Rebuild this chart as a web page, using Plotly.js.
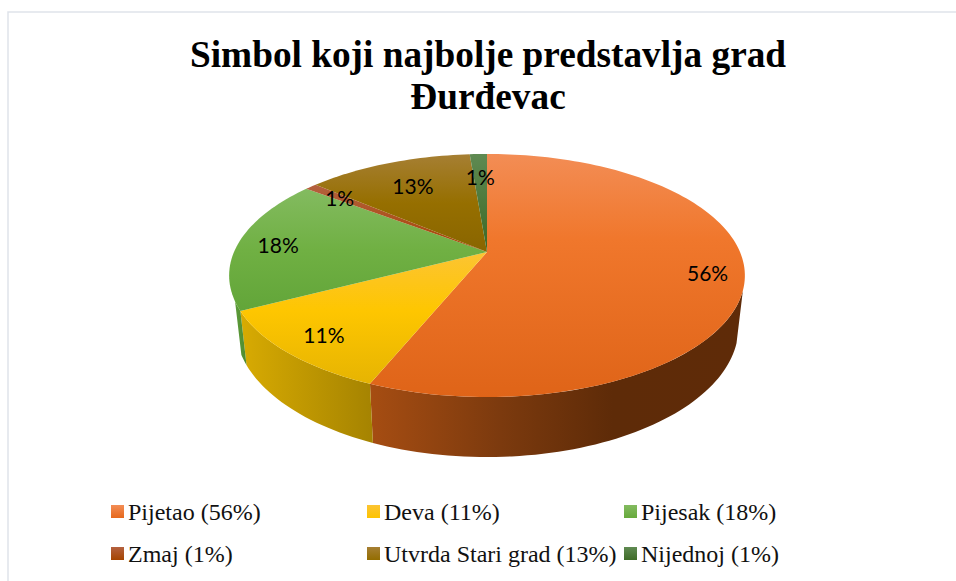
<!DOCTYPE html>
<html>
<head>
<meta charset="utf-8">
<script src="https://cdn.plot.ly/plotly-3.0.1.min.js"></script>
<style>html,body{margin:0;padding:0;background:#fff;overflow:hidden}</style>
</head>
<body>
<div id="chart" style="width:956px;height:581px"></div>
<script>
// ---- data ----
const categories = ['Pijetao', 'Deva', 'Pijesak', 'Zmaj', 'Utvrda Stari grad', 'Nijednoj'];
const values = [56.2, 11.2, 17.9, 0.9, 12.5, 1.3];

// ---- styles ----
const topGradients = [
  [[0, '#f38d55'], [0.35, '#f0772c'], [1, '#df6418']],
  [[0, '#fcc433'], [0.45, '#fec600'], [1, '#e6b402']],
  [[0, '#83bb60'], [0.5, '#70b043'], [1, '#62a539']],
  [[0, '#b4613f'], [1, '#a54400']],
  [[0, '#a67f33'], [0.5, '#966f00'], [1, '#896500']],
  [[0, '#5f8a52'], [1, '#3b6825']]
];
const wallGradients = [
  [[0, '#a64d12'], [0.35, '#7c3a0e'], [0.65, '#5e2b08'], [1, '#5f2b08']],
  [[0, '#d8ab02'], [1, '#a58301']],
  [[0, '#5d9c39'], [1, '#4f8a30']],
  [[0, '#7f3300'], [1, '#7f3300']],
  [[0, '#765800'], [1, '#765800']],
  [[0, '#2e521c'], [1, '#2e521c']]
];
const swatchTop = ['#f38d55', '#fcc433', '#83bb60', '#b4613f', '#a67f33', '#5f8a52'];
const swatchBottom = ['#e6681c', '#fdc300', '#67aa3c', '#a54400', '#936d00', '#3f6c28'];
const labelRadius = [0.86, 0.84, 0.84, 0.82, 0.72, 0.74];
const labelShift = 3.5;

// ---- projection of the tilted disk ----
const CX = 487, CY = 252, QX = 253, PY = 117, KP = 0.1934;
const DEG = Math.PI / 180;
function proj(theta, r) {
  const s = Math.sin(theta * DEG), c = Math.cos(theta * DEG), d = 1 + KP * r * c;
  return [CX + QX * r * s / d, CY - PY * r * c / d];
}
function lower(p) {
  return [CX + (p[0] - CX) * 0.975, p[1] + 60 - (397 - p[1]) * 0.068];
}
function arc(a, b) {
  const n = Math.max(2, Math.ceil(Math.abs(b - a) / 1.5)), pts = [];
  for (let i = 0; i <= n; i++) pts.push(proj(a + (b - a) * i / n, 1));
  return pts;
}
function polyTrace(pts, grad, type, lo, hi) {
  return {
    type: 'scatter', mode: 'none', fill: 'toself',
    x: pts.map(p => p[0]), y: pts.map(p => p[1]),
    fillgradient: {type: type, start: lo, stop: hi, colorscale: grad},
    hoverinfo: 'skip', showlegend: false
  };
}

// ---- build ----
const total = values.reduce((a, b) => a + b, 0);
const traces = [], tops = [];
const lx = [], ly = [], lt = [];
let acc = 0;
const VIS_A = 108, VIS_B = 247;
values.forEach((v, i) => {
  const a = acc / total * 360, b = (acc + v) / total * 360;
  acc += v;
  const wa = Math.max(a, VIS_A), wb = Math.min(b, VIS_B);
  if (wb > wa) {
    const edge = arc(wa, wb);
    const wall = edge.concat(edge.map(lower).reverse());
    const xs = wall.map(p => p[0]);
    traces.push(polyTrace(wall, wallGradients[i], 'horizontal', Math.min(...xs), Math.max(...xs)));
  }
  const face = [[CX, CY]].concat(arc(a, b));
  const ys = face.map(p => p[1]);
  tops.push(polyTrace(face, topGradients[i], 'vertical', Math.min(...ys), Math.max(...ys)));
  const m = proj((a + b) / 2, labelRadius[i]);
  lx.push(m[0]); ly.push(m[1] + labelShift); lt.push(Math.round(v) + '%');
});
traces.push(...tops);
traces.push({
  type: 'scatter', mode: 'text', x: lx, y: ly, text: lt,
  textposition: 'middle center',
  textfont: {family: 'Lato, Carlito, sans-serif', size: 21, color: '#000'},
  hoverinfo: 'skip', showlegend: false
});

// legend drawn in three columns, two rows
const legX = [117.5, 373.5, 630.5], legY = [511.5, 553.5];
const annotations = [];
categories.forEach((name, i) => {
  const x = legX[i % 3], y = legY[i < 3 ? 0 : 1];
  traces.push({
    type: 'scatter', mode: 'markers', x: [x], y: [y],
    marker: {symbol: 'square', size: 13, color: swatchTop[i], line: {width: 0},
             gradient: {type: 'vertical', color: swatchBottom[i]}},
    hoverinfo: 'skip', showlegend: false
  });
  annotations.push({
    x: x + 8.7, y: y + 0.5, xref: 'x', yref: 'y', xanchor: 'left', yanchor: 'middle',
    text: name + ' (' + Math.round(values[i]) + '%)', showarrow: false,
    font: {family: '"Liberation Serif", serif', size: 24, color: '#111'}
  });
});

const layout = {
  width: 956, height: 581,
  margin: {l: 0, r: 0, t: 0, b: 0},
  paper_bgcolor: '#fff', plot_bgcolor: '#fff',
  showlegend: false,
  title: {
    text: '<span style="font-size:37.3px">Simbol koji najbolje predstavlja grad</span><br><span style="font-size:37.3px">Đurđevac</span>',
    font: {family: '"Liberation Serif", serif', size: 32.3, color: '#000', weight: 'bold'},
    x: 0.5105, xanchor: 'center', y: 0.8855, yanchor: 'middle'
  },
  xaxis: {range: [0, 956], visible: false, fixedrange: true},
  yaxis: {range: [581, 0], visible: false, fixedrange: true},
  annotations: annotations,
  shapes: [{type: 'rect', x0: 8, y0: 12, x1: 1000, y1: 640, line: {color: '#dfe3ea', width: 1.5}, layer: 'below'}]
};
Plotly.newPlot('chart', traces, layout, {displayModeBar: false, staticPlot: true});
</script>
</body>
</html>
